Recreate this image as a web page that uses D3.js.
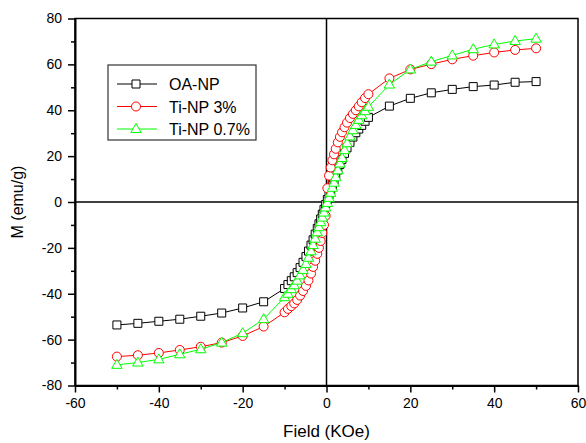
<!DOCTYPE html>
<html>
<head>
<meta charset="utf-8">
<script src="https://cdn.jsdelivr.net/npm/d3@7"></script>
<style>
  body { margin: 0; background: #fff; }
  text { font-family: Arial, "Liberation Sans", sans-serif; }
</style>
</head>
<body>
<div id="chart"></div>
<script>

// Set dimensions and margins for plot
const width = 586;
const height = 443;
const margin = {left: 75, right: 8, top: 18.5, bottom: 57.5};

// field values (kOe), shared by all three samples
const field = [-50, -45, -40, -35, -30, -25, -20, -15,
  -10, -9.2, -8.4, -7.7, -7, -6.3, -5.6, -4.9, -4.3, -3.7, -3.2, -2.7, -2.2, -1.8, -1.4, -1, -0.6, -0.2,
  0.2, 0.6, 1, 1.4, 1.8, 2.2, 2.7, 3.2, 3.7, 4.3, 4.9, 5.6, 6.3, 7, 7.7, 8.4, 9.2, 10,
  15, 20, 25, 30, 35, 40, 45, 50];

// magnetisation (emu/g) for each sample
const oaNP = [-53.6, -52.9, -52, -51.1, -49.8, -48.4, -46.2, -43.5,
  -37.7, -36, -34.3, -32.6, -30.8, -28.6, -26.3, -23.8, -21.4, -18.8, -16.5, -14, -11.5, -9.5, -7.4, -5.3, -3.2, -1.1,
  1.1, 3.2, 5.3, 7.4, 9.5, 11.6, 14, 16.4, 18.6, 21.2, 23.6, 26, 28.3, 30.2, 31.8, 33.4, 35.2, 36.9,
  41.8, 45.2, 47.6, 49.1, 50.3, 51, 52.2, 52.5];

const tiNP3 = [-67.4, -66.8, -65.8, -64.5, -63.1, -61.3, -58.4, -54.3,
  -48.1, -46.6, -45.4, -44.2, -42.7, -40.8, -38.8, -36.6, -34.2, -31.2, -28.3, -25.6, -22.6, -20, -17, -13.5, -10, -6,
  6, 11.5, 15, 18.2, 20.8, 23.2, 26, 28.4, 30.4, 32.6, 34.6, 36.6, 38.4, 40, 41.7, 43.5, 45.3, 47,
  53.9, 57.8, 60.1, 62.2, 63.8, 65.2, 66.3, 67];

const tiNP07 = [-71, -70, -68.6, -66.4, -64.2, -61.3, -57.2, -51.1,
  -41.5, -40, -38, -36.3, -34.3, -32, -29.6, -27, -24.3, -21.5, -18.8, -16, -13.2, -11, -8.8, -6.8, -4.6, -2.4,
  -0.4, 1.8, 4, 6.2, 8.4, 10.8, 13.8, 16.8, 19.2, 22.6, 25.6, 28.6, 31.3, 33.6, 35.8, 37.8, 39.6, 41.5,
  51.2, 57.8, 61.2, 63.9, 66.6, 68.7, 70.2, 71.2];

const seriesNames = ["OA-NP", "Ti-NP 3%", "Ti-NP 0.7%"];
const seriesColors = ["#000000", "#ff0000", "#00ff00"];
const seriesShapes = ["square", "circle", "triangle"];

const xTicks = [-60, -40, -20, 0, 20, 40, 60];
const yTicks = [-80, -60, -40, -20, 0, 20, 40, 60, 80];

const series = [oaNP, tiNP3, tiNP07].map((vals, k) => ({
  name: seriesNames[k],
  color: seriesColors[k],
  shape: seriesShapes[k],
  points: field.map((f, i) => ({x: f, y: vals[i]}))
}));

// add an svg to build within
const svg = d3.select("#chart")
  .append("svg")
  .attr("width", width)
  .attr("height", height);

const xScale = d3.scaleLinear()
  .domain([-60, 60])
  .range([margin.left, width - margin.right]);

const yScale = d3.scaleLinear()
  .domain([-80, 80])
  .range([height - margin.bottom, margin.top]);

// marker paths
function markerPath(shape) {
  if (shape === "square") return "M-4,-4H4V4H-4Z";
  if (shape === "circle") return d3.symbol(d3.symbolCircle, Math.PI * 4.5 * 4.5)();
  return "M0,-5.5L5.2,3.5H-5.2Z";
}

// zero lines
svg.append("line")
  .attr("x1", xScale(-60)).attr("x2", xScale(60))
  .attr("y1", yScale(0)).attr("y2", yScale(0))
  .attr("stroke", "#000").attr("stroke-width", 1.5);

svg.append("line")
  .attr("x1", xScale(0)).attr("x2", xScale(0))
  .attr("y1", yScale(-80)).attr("y2", yScale(80))
  .attr("stroke", "#000").attr("stroke-width", 1.5);

// lines and markers, one series at a time
const line = d3.line().x(d => xScale(d.x)).y(d => yScale(d.y));

series.forEach(s => {
  svg.append("path")
    .datum(s.points)
    .attr("d", line)
    .attr("fill", "none")
    .attr("stroke", s.color)
    .attr("stroke-width", 1);

  svg.append("g")
    .selectAll("path")
    .data(s.points)
    .enter()
    .append("path")
      .attr("d", markerPath(s.shape))
      .attr("transform", d => `translate(${xScale(d.x)},${yScale(d.y)})`)
      .attr("fill", "#fff")
      .attr("stroke", s.color)
      .attr("stroke-width", 1);
});

// frame (top and right)
svg.append("rect")
  .attr("x", xScale(-60)).attr("y", yScale(80))
  .attr("width", xScale(60) - xScale(-60))
  .attr("height", yScale(-80) - yScale(80))
  .attr("fill", "none")
  .attr("stroke", "#000")
  .attr("stroke-width", 1.5);

// minor ticks
svg.append("g")
  .attr("transform", `translate(0,${yScale(-80)})`)
  .call(d3.axisBottom(xScale).tickValues(d3.range(-50, 60, 20)).tickSize(4).tickFormat(""))
  .call(g => g.select(".domain").remove())
  .selectAll("line").attr("stroke-width", 1.5);

svg.append("g")
  .attr("transform", `translate(${xScale(-60)},0)`)
  .call(d3.axisLeft(yScale).tickValues(d3.range(-70, 80, 20)).tickSize(4).tickFormat(""))
  .call(g => g.select(".domain").remove())
  .selectAll("line").attr("stroke-width", 1.5);

// x axis
svg.append("g")
  .attr("transform", `translate(0,${yScale(-80)})`)
  .call(d3.axisBottom(xScale).tickValues(xTicks).tickSize(7).tickSizeOuter(0).tickPadding(6))
  .attr("font-size", "14px")
  .call(g => g.select(".domain").attr("stroke-width", 2))
  .call(g => g.selectAll(".tick line").attr("stroke-width", 1.5))
  .call(g => g.selectAll("text").attr("fill", "#000").text(d => d));

// y axis
svg.append("g")
  .attr("transform", `translate(${xScale(-60)},0)`)
  .call(d3.axisLeft(yScale).tickValues(yTicks).tickSize(7).tickSizeOuter(0).tickPadding(6))
  .attr("font-size", "14px")
  .call(g => g.select(".domain").attr("stroke-width", 2))
  .call(g => g.selectAll(".tick line").attr("stroke-width", 1.5))
  .call(g => g.selectAll("text").attr("fill", "#000").text(d => d));

d3.selectAll(".tick text").style("font-family", "Arial, 'Liberation Sans', sans-serif");

// axis titles
svg.append("text")
  .attr("x", xScale(0))
  .attr("y", 437)
  .attr("text-anchor", "middle")
  .attr("font-size", "17px")
  .text("Field (KOe)");

svg.append("text")
  .attr("transform", `translate(23,${yScale(0)}) rotate(-90)`)
  .attr("text-anchor", "middle")
  .attr("font-size", "16px")
  .text("M (emu/g)");

// legend
const legend = svg.append("g").attr("transform", "translate(108,65)");

legend.append("rect")
  .attr("width", 148)
  .attr("height", 75)
  .attr("fill", "#fff")
  .attr("stroke", "#333")
  .attr("stroke-width", 1.2);

series.forEach((s, i) => {
  const row = legend.append("g").attr("transform", `translate(0,${19 + i * 22.5})`);
  row.append("line")
    .attr("x1", 9).attr("x2", 49)
    .attr("stroke", s.color).attr("stroke-width", 1);
  row.append("path")
    .attr("d", markerPath(s.shape))
    .attr("transform", "translate(28,0)")
    .attr("fill", "#fff")
    .attr("stroke", s.color);
  row.append("text")
    .attr("x", 61)
    .attr("y", 6)
    .attr("font-size", "16px")
    .text(s.name);
});

</script>
</body>
</html>
